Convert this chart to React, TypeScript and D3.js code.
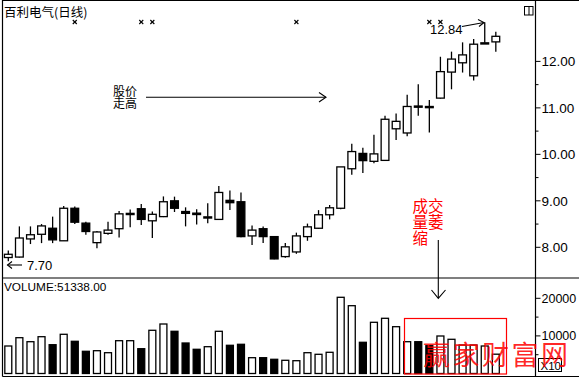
import React from "react";
import * as d3 from "d3";

const W = 579;
const H = 378;

const title = "百利电气(日线)";
const days = d3.range(1, 46).map((d) => String(d));
const opens = [7.78, 7.79, 8.18, 8.28, 8.41, 8.14, 8.84, 8.52, 8.10, 8.30, 8.40, 8.72, 8.83, 8.57, 8.66, 9.00, 8.77, 8.735, 8.64, 8.60, 9.01, 8.98, 8.245, 8.40, 8.23, 7.80, 7.90, 8.23, 8.41, 8.70, 8.84, 9.69, 10.02, 9.85, 9.87, 10.55, 10.46, 11.04, 11.03, 11.21, 11.77, 11.97, 11.69, 12.39, 12.42];
const closes = [7.85, 8.20, 8.27, 8.46, 8.16, 8.84, 8.54, 8.34, 8.33, 8.37, 8.72, 8.73, 8.60, 8.71, 8.98, 8.84, 8.73, 8.705, 8.655, 9.18, 8.96, 8.23, 8.37, 8.23, 7.75, 8.01, 8.245, 8.44, 8.70, 8.85, 9.73, 10.06, 9.865, 10.01, 10.755, 10.71, 11.03, 11.02, 11.01, 11.78, 12.05, 12.14, 12.37, 12.40, 12.54];
const highs = [7.93, 8.45, 8.45, 8.50, 8.66, 8.89, 8.88, 8.55, 8.35, 8.55, 8.78, 8.815, 8.93, 8.77, 9.095, 9.09, 8.86, 8.82, 8.95, 9.32, 9.22, 9.18, 8.47, 8.445, 8.245, 8.095, 8.315, 8.51, 8.80, 8.91, 9.73, 10.23, 10.14, 10.42, 10.83, 10.88, 11.28, 11.51, 11.17, 12.10, 12.21, 12.41, 12.48, 12.84, 12.64];
const lows = [7.70, 7.78, 8.07, 8.09, 8.09, 8.14, 8.50, 8.27, 7.98, 8.27, 8.21, 8.43, 8.48, 8.20, 8.65, 8.76, 8.45, 8.49, 8.52, 8.60, 8.80, 8.217, 8.05, 8.09, 7.744, 7.776, 7.86, 8.14, 8.40, 8.60, 8.82, 9.56, 9.60, 9.81, 9.86, 10.31, 10.39, 10.83, 10.47, 11.20, 11.40, 11.76, 11.59, 12.39, 12.21];
const volumes = [7314, 9521, 8457, 9787, 7660, 10426, 8564, 5904, 6064, 5532, 8724, 8724, 6596, 11490, 13165, 11223, 8112, 6436, 7128, 11223, 7500, 7766, 4202, 4202, 3777, 3511, 3404, 5532, 5106, 5638, 20266, 18032, 8298, 13617, 14681, 12447, 8457, 8457, 7394, 9974, 9096, 7580, 7580, 7314, 5134];
const markerDays = ["7", "13", "14", "27", "39", "40"];
const priceTicks = [8, 9, 10, 11, 12];
const priceMinorTicks = [8.5, 9.5, 10.5, 11.5];
const volumeTicks = [10000, 20000];
const volumeMinorTicks = [5000, 15000];
const volumeLabel = "VOLUME:51338.00";
const highLabel = "12.84";
const lowLabel = "7.70";
const noteRise = ["股价", "走高"];
const noteShrink = ["成交", "量萎", "缩"];
const watermark = "赢家财富网";

const NUM_FONT = "'Liberation Sans', Arial, sans-serif";
const CJK_FONT = "'Noto Sans CJK SC', sans-serif";

export default function App() {
  const axisX = 535.5;
  const x = d3.scaleBand<string>().domain(days).range([2.76, 2.76 + 11.08 * 45]).paddingInner(0.3).paddingOuter(0.15);
  const bw = x.bandwidth();
  const cx = (d: string) => (x(d) as number) + bw / 2;
  const y = d3.scaleLinear().domain([8, 12]).range([247.3, 61.4]);
  const yv = d3.scaleLinear().domain([0, 20000]).range([373.5, 298.3]);

  const candles = days.map((d, i) => {
    const o = opens[i], c = closes[i], h = highs[i], l = lows[i];
    const up = c >= o;
    const top = y(Math.max(o, c));
    const bot = y(Math.min(o, c));
    return { d, i, o, c, h, l, up, top, bot };
  });

  return (
    <svg width={W} height={H} style={{ position: "absolute", left: 0, top: 0, background: "#fff" }}>
      <rect x={0} y={0} width={W} height={H} fill="#fff" />
      {/* frame */}
      <line x1={2.5} y1={0.5} x2={W} y2={0.5} stroke="#000" strokeWidth={1} />
      <line x1={2.5} y1={0} x2={2.5} y2={376.5} stroke="#000" strokeWidth={1.2} />
      <line x1={2.5} y1={376.5} x2={W} y2={376.5} stroke="#000" strokeWidth={1.2} />
      <line x1={2.5} y1={278} x2={W} y2={278} stroke="#000" strokeWidth={1.2} />
      <line x1={axisX} y1={0} x2={axisX} y2={376.5} stroke="#000" strokeWidth={1.2} />

      {/* title */}
      <text x={4} y={17} fontFamily={CJK_FONT} fontSize={12.5} fill="#000">{title}</text>
      {/* small icon */}
      <rect x={524.5} y={6.5} width={8.5} height={8.5} fill="none" stroke="#000" strokeWidth={1} />
      <line x1={529} y1={6.5} x2={529} y2={15} stroke="#000" strokeWidth={1} />

      {/* price axis */}
      {priceTicks.map((t) => (
        <g key={"pt" + t}>
          <line x1={axisX} x2={axisX + 5} y1={y(t)} y2={y(t)} stroke="#000" strokeWidth={1} />
          <text x={541.5} y={y(t) + 4.8} fontFamily={NUM_FONT} fontSize={13.5} fill="#000">{t.toFixed(2)}</text>
        </g>
      ))}
      {priceMinorTicks.map((t) => (
        <line key={"pm" + t} x1={axisX} x2={axisX + 3} y1={y(t)} y2={y(t)} stroke="#000" strokeWidth={1} />
      ))}

      {/* volume axis */}
      {volumeTicks.map((t) => (
        <g key={"vt" + t}>
          <line x1={axisX} x2={axisX + 5} y1={yv(t)} y2={yv(t)} stroke="#000" strokeWidth={1} />
          <text x={541.5} y={yv(t) + 4.5} fontFamily={NUM_FONT} fontSize={12.5} fill="#000">{String(t)}</text>
        </g>
      ))}
      {volumeMinorTicks.map((t) => (
        <line key={"vm" + t} x1={axisX} x2={axisX + 3} y1={yv(t)} y2={yv(t)} stroke="#000" strokeWidth={1} />
      ))}
      <rect x={538.5} y={358.5} width={23} height={13} fill="#fff" stroke="#000" strokeWidth={1} />
      <text x={540.5} y={369.5} fontFamily={NUM_FONT} fontSize={11.5} fill="#000">X10</text>

      {/* candles */}
      {candles.map((k) => {
        const left = x(k.d) as number;
        const c = cx(k.d);
        const hgt = Math.max(k.bot - k.top, 1.2);
        return (
          <g key={"c" + k.d}>
            <line x1={c} x2={c} y1={y(k.h)} y2={y(k.l)} stroke="#000" strokeWidth={1.3} />
            <rect x={left} y={k.top} width={bw} height={hgt} fill={k.up ? "#fff" : "#000"} stroke="#000" strokeWidth={1.3} />
          </g>
        );
      })}

      {/* markers */}
      {markerDays.map((d) => {
        const c = cx(d);
        return (
          <g key={"m" + d} stroke="#000" strokeWidth={1.1}>
            <line x1={c - 2} x2={c + 2} y1={20} y2={24} />
            <line x1={c - 2} x2={c + 2} y1={24} y2={20} />
          </g>
        );
      })}

      {/* volume bars */}
      {days.map((d, i) => (
        <rect key={"v" + d} x={(x(d) as number) + 0.4} y={yv(volumes[i])} width={bw - 0.8} height={yv(0) - yv(volumes[i])}
          fill={candles[i].up ? "#fff" : "#000"} stroke="#000" strokeWidth={1.3} />
      ))}
      <text x={4} y={291} fontFamily={NUM_FONT} fontSize={11.8} fill="#000">{volumeLabel}</text>

      {/* annotations */}
      <text x={430} y={34} fontFamily={NUM_FONT} fontSize={13} fill="#000">{highLabel}</text>
      <g stroke="#000" strokeWidth={1.1} fill="none">
        <line x1={462} y1={26.5} x2={484} y2={22.5} />
        <polyline points="478,19.5 484,22.5 479,26.5" />
      </g>
      <g stroke="#000" strokeWidth={1.1} fill="none">
        <line x1={7.5} y1={265} x2={22} y2={265} />
        <polyline points="12,261.5 7.5,265 12,268.5" />
      </g>
      <text x={27} y={269.5} fontFamily={NUM_FONT} fontSize={13} fill="#000">{lowLabel}</text>

      {noteRise.map((s, i) => (
        <text key={"nr" + i} x={113} y={96 + i * 12} fontFamily={CJK_FONT} fontSize={12} fill="#000">{s}</text>
      ))}
      <g stroke="#000" strokeWidth={1.1} fill="none">
        <line x1={146} y1={97.3} x2={326} y2={97.3} />
        <polyline points="319,92.5 326,97.3 319,102" />
      </g>

      {noteShrink.map((s, i) => (
        <text key={"ns" + i} x={412.5} y={211.5 + i * 16} fontFamily={CJK_FONT} fontSize={15.5} fill="#f00">{s}</text>
      ))}
      <g stroke="#000" strokeWidth={1.1} fill="none">
        <line x1={438.3} y1={240} x2={438.3} y2={298} />
        <polyline points="431.5,290 438.3,298.3 445.5,290" />
      </g>

      <rect x={404.5} y={318.5} width={102} height={55.5} fill="none" stroke="#f00" strokeWidth={1.2} />
      <text x={423} y={365} fontFamily={CJK_FONT} fontSize={27} letterSpacing={2.5} fill="#f00" fillOpacity={0.85}>{watermark}</text>
    </svg>
  );
}
